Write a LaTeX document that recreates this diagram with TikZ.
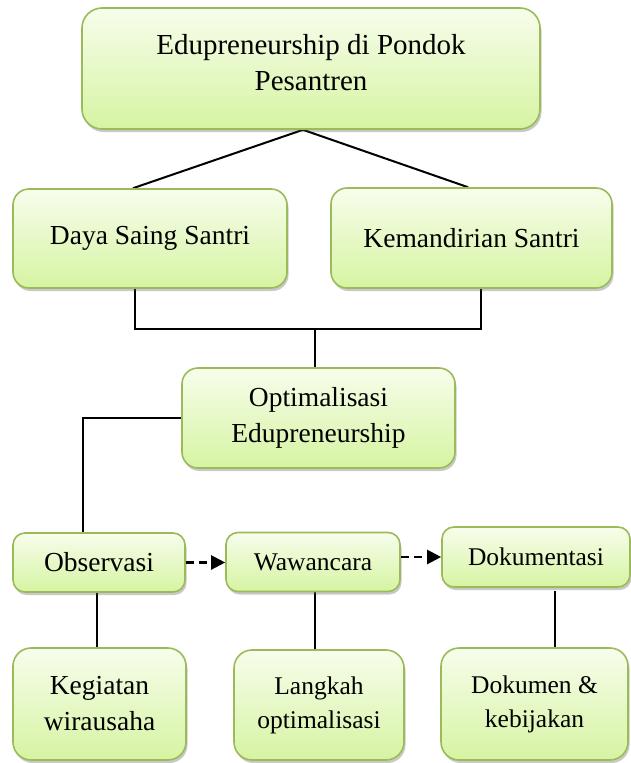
\documentclass[tikz,border=0pt]{standalone}
\usepackage{fontspec}
\setmainfont{Liberation Serif}
\usetikzlibrary{shadows,arrows.meta,calc,backgrounds}
\definecolor{boxtop}{HTML}{F7FDEC}
\definecolor{boxbot}{HTML}{D6F4A2}
\definecolor{boxline}{HTML}{9BBB59}
\begin{document}
\begin{tikzpicture}[x=1pt,y=-1pt,
  box/.style={draw=boxline,line width=1.6pt,top color=boxtop,bottom color=boxbot,
    rounded corners=#1,
    drop shadow={shadow xshift=1.5pt,shadow yshift=-3pt,opacity=0.3,fill=black!70},
    align=center,inner sep=0pt},
  box/.default=14pt,
  toptext/.style={font=\fontsize{29}{36}\selectfont},
  bigtext/.style={font=\fontsize{27.5}{36}\selectfont},
  smalltext/.style={font=\fontsize{25.5}{34}\selectfont},
  conn/.style={line width=2pt,black},
  flow/.style={line width=2.2pt,black,dash pattern=on 8pt off 5pt,-{Triangle[length=14pt,width=14pt]}}]
\useasboundingbox (0,0) rectangle (631,763);

\node[box=20pt,toptext,minimum width=458pt,minimum height=121pt,text depth=13pt] (Top) at (311,68.5) {Edupreneurship di Pondok\\Pesantren};
\node[box=16pt,bigtext,minimum width=274pt,minimum height=99pt] (Daya) at (150,238.5) {Daya Saing Santri};
\node[box=16pt,bigtext,minimum width=281pt,minimum height=100pt] (Kem) at (471.5,238) {Kemandirian Santri};
\node[box=16pt,bigtext,minimum width=273pt,minimum height=100pt] (Opt) at (318.5,418) {Optimalisasi\\Edupreneurship};
\node[box=12pt,bigtext,minimum width=172pt,minimum height=59pt] (Obs) at (99,562.5) {Observasi};
\node[box=12pt,smalltext,minimum width=174pt,minimum height=59pt] (Waw) at (313,562) {Wawancara};
\node[box=12pt,smalltext,minimum width=188pt,minimum height=60pt] (Dok) at (536,557) {Dokumentasi};
\node[box=18pt,bigtext,minimum width=173pt,minimum height=112pt] (Keg) at (99.5,704) {Kegiatan\\wirausaha};
\node[box=18pt,smalltext,minimum width=170pt,minimum height=110pt] (Lan) at (319,705) {Langkah\\optimalisasi};
\node[box=18pt,smalltext,minimum width=187pt,minimum height=112pt] (Doc) at (534.5,704) {Dokumen \&\\kebijakan};

\begin{scope}[on background layer]
\draw[conn] ($(Daya.north)+(-17,0)$) -- ($(Top.south)+(-8,0)$) -- ($(Kem.north)+(-3.5,0)$);
\draw[conn] ($(Daya.south)+(-15,0)$) -- ++(0,40) -| ($(Kem.south)+(9.5,0)$);
\draw[conn] ($(Opt.north)+(-3.5,0)$) -- ++(0,-37);
\draw[conn] (Opt.west) -| ($(Obs.north)+(-16,0)$);
\draw[conn] ($(Obs.south)+(-2,0)$) -- ($(Keg.north)+(-2.5,0)$);
\draw[conn] ($(Waw.south)+(2,0)$) -- ($(Lan.north)+(-4,0)$);
\draw[conn] ($(Dok.south)+(19,3)$) -- ($(Doc.north)+(20.5,0)$);
\end{scope}
\draw[flow] (Obs.east) -- (Obs.east -| Waw.west);
\draw[flow] (Waw.east |- Dok.west) -- (Dok.west);
\end{tikzpicture}
\end{document}
